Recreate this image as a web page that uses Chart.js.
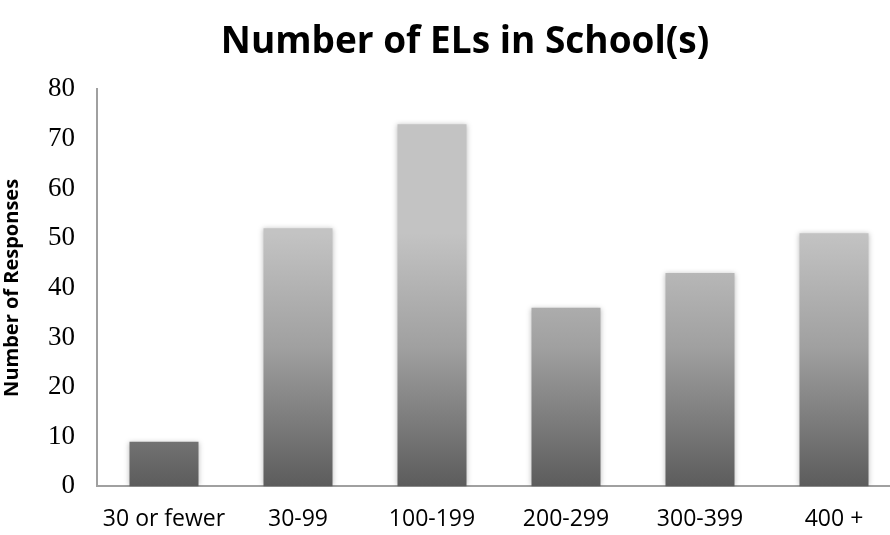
<!DOCTYPE html>
<html>
<head>
<meta charset="utf-8">
<script src="https://cdn.jsdelivr.net/npm/chart.js@4/dist/chart.umd.min.js"></script>
<style>
    html, body { margin: 0; padding: 0; background: #ffffff; }
    #wrap { width: 890px; height: 535px; }
</style>
</head>
<body>
<div id="wrap"><canvas id="chart" width="890" height="535"></canvas></div>
<script>
const categories = ['30 or fewer', '30-99', '100-199', '200-299', '300-399', '400 +'];
const responses = [9, 52, 73, 36, 43, 51];
const yTicks = [0, 10, 20, 30, 40, 50, 60, 70, 80];

// the original plot runs a little past the right edge of the picture
const layoutTweaks = {
    id: 'layoutTweaks',
    afterLayout(chart) {
        chart.titleBlock.left += 40;
        const x = chart.scales.x;
        const extra = 11;
        x.right += extra;
        x.width += extra;
        x.configure();
        chart.chartArea.right += extra;
        chart.chartArea.width += extra;
    }
};

// each bar gets its own light-to-dark vertical gradient
const barGradient = {
    id: 'barGradient',
    beforeDatasetsDraw(chart) {
        const ctx = chart.ctx;
        chart.getDatasetMeta(0).data.forEach(bar => {
            const g = ctx.createLinearGradient(0, bar.y, 0, bar.base);
            g.addColorStop(0, '#c3c3c3');
            g.addColorStop(0.45, '#a0a0a0');
            g.addColorStop(1, '#5c5c5c');
            bar.options.backgroundColor = g;
        });
        ctx.save();
        ctx.shadowColor = 'rgba(0,0,0,0.25)';
        ctx.shadowBlur = 5;
    },
    afterDatasetsDraw(chart) {
        chart.ctx.restore();
    }
};

new Chart(document.getElementById('chart'), {
    type: 'bar',
    data: {
        labels: categories,
        datasets: [{
            data: responses,
            backgroundColor: '#999999',
            barPercentage: 0.515,
            categoryPercentage: 1.0
        }]
    },
    options: {
        responsive: false,
        animation: false,
        layout: { padding: { left: 0, right: 0, top: 0, bottom: -17 } },
        plugins: {
            legend: { display: false },
            tooltip: { enabled: false },
            title: {
                display: true,
                text: 'Number of ELs in School(s)',
                color: '#000000',
                font: { family: 'Open Sans', size: 37, weight: 'bold' },
                padding: { top: 20, bottom: 25 }
            }
        },
        scales: {
            x: {
                grid: { display: false, drawTicks: false },
                border: { color: '#a0a0a0', width: 2 },
                ticks: {
                    color: '#000000',
                    font: { family: 'Open Sans', size: 23 },
                    padding: 19
                }
            },
            y: {
                min: 0,
                max: 80,
                afterBuildTicks(axis) {
                    axis.ticks = yTicks.map(v => ({ value: v }));
                },
                grid: { display: false, drawTicks: false },
                border: { color: '#a0a0a0', width: 2 },
                ticks: {
                    color: '#000000',
                    font: { family: 'Liberation Serif', size: 27 },
                    padding: 22
                },
                title: {
                    display: true,
                    text: 'Number of Responses',
                    color: '#000000',
                    font: { family: 'Open Sans', size: 20, weight: 'bold' },
                    padding: { top: 0, bottom: 2 }
                }
            }
        }
    },
    plugins: [layoutTweaks, barGradient]
});
</script>
</body>
</html>
